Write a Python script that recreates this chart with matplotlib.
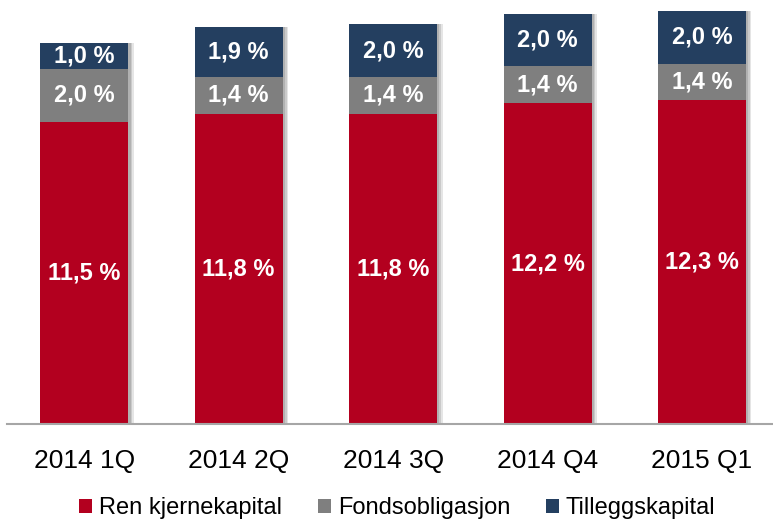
import numpy as np
import matplotlib.pyplot as plt
from matplotlib.patches import Patch

plt.rcParams['font.family'] = ['Liberation Sans', 'DejaVu Sans']

categories = ['2014 1Q', '2014 2Q', '2014 3Q', '2014 Q4', '2015 Q1']
ren_kjerne = [11.5, 11.8, 11.8, 12.2, 12.3]
fondsobl = [2.0, 1.4, 1.4, 1.4, 1.4]
tillegg = [1.0, 1.9, 2.0, 2.0, 2.0]

series_names = ['Ren kjernekapital', 'Fondsobligasjon', 'Tilleggskapital']
colors = ['#B3001F', '#7F7F7F', '#243F60']

fig = plt.figure(figsize=(7.73, 5.22), dpi=100)
ax = fig.add_axes([7 / 773, 1 - 424 / 522, 1 - 7 / 773, 424 / 522])

x = np.arange(len(categories))
width = 0.57

# soft shadow behind the bars
totals = np.array(ren_kjerne) + np.array(fondsobl) + np.array(tillegg)
for off, a in [(0.035, 0.25), (0.025, 0.35), (0.015, 0.5)]:
    ax.bar(x + off, totals, width, color='#9a9a9a', alpha=a, zorder=1, linewidth=0)

bottom = np.zeros(len(categories))
for vals, col in zip([ren_kjerne, fondsobl, tillegg], colors):
    ax.bar(x, vals, width, bottom=bottom, color=col, zorder=2, linewidth=0)
    for xi, b, v in zip(x, bottom, vals):
        ax.text(xi, b + v / 2, f"{v:.1f} %".replace('.', ','), ha='center', va='center',
                color='white', fontsize=17, fontweight='bold', zorder=3)
    bottom += np.array(vals)

ax.set_xlim(-0.5, 4.46)
ax.set_ylim(0, 16.12)
for s in ['top', 'right', 'left']:
    ax.spines[s].set_visible(False)
ax.spines['bottom'].set_color('#a6a6a6')
ax.spines['bottom'].set_linewidth(1.5)
ax.set_yticks([])
ax.set_xticks(x)
ax.set_xticklabels(categories, fontsize=19)
ax.tick_params(axis='x', length=0, pad=18)

handles = [Patch(facecolor=c, edgecolor='none') for c in colors]
fig.legend(handles, series_names, loc='center', bbox_to_anchor=(0.514, 1 - 508 / 522),
           ncol=3, frameon=False, fontsize=17, handlelength=0.55, handleheight=0.55,
           handletextpad=0.3, columnspacing=1.5, borderpad=0)

fig.savefig('out.png', dpi=100)
